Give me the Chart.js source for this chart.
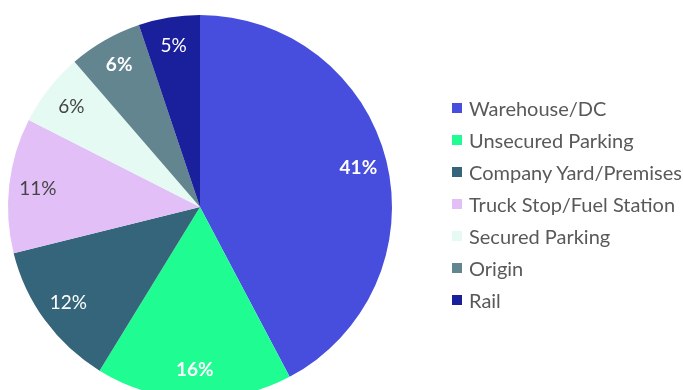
<!DOCTYPE html>
<html>
<head>
<meta charset="utf-8">
<script src="https://cdn.jsdelivr.net/npm/chart.js@4.4.1/dist/chart.umd.min.js"></script>
<style>
  html, body { margin:0; padding:0; background:#fff; overflow:hidden; width:683px; height:390px; }
  #wrap { position:absolute; left:0; top:0; width:683px; height:414px; }
  #legend { position:absolute; left:452px; top:92px; font-family:Lato, sans-serif; font-size:20px; color:#595959; }
  #legend .item { display:flex; align-items:center; height:32px; white-space:nowrap; }
  #legend .sw { width:10px; height:10px; margin-right:7px; flex:none; }
</style>
</head>
<body>
<div id="wrap"><canvas id="pie"></canvas></div>
<div id="legend"></div>
<script>
// Location breakdown (percent)
const categories = ['Warehouse/DC','Unsecured Parking','Company Yard/Premises','Truck Stop/Fuel Station','Secured Parking','Origin','Rail'];
const shares = [41, 16, 12, 11, 6, 6, 5];
const colors = ['#474ede','#1ffd92','#35657a','#e2c0f7','#e5faf2','#62858f','#1a1f9b'];
const labelColors = ['#fff','#fff','#fff','#444','#444','#fff','#fff'];
const labelBold = [true, true, false, false, false, true, false];

// percent labels inside each slice
const sliceLabels = {
  id:'sliceLabels',
  afterDatasetsDraw(chart){
    const ctx = chart.ctx;
    const meta = chart.getDatasetMeta(0);
    meta.data.forEach((arc, i) => {
      const p = arc.getProps(['x','y','startAngle','endAngle','outerRadius'], true);
      const mid = (p.startAngle + p.endAngle) / 2;
      const r = p.outerRadius * 0.85;
      ctx.save();
      ctx.font = (labelBold[i] ? 'bold ' : '') + '19px Lato, sans-serif';
      ctx.fillStyle = labelColors[i];
      ctx.textAlign = 'center';
      ctx.textBaseline = 'middle';
      ctx.fillText(shares[i] + '%', p.x + Math.cos(mid) * r, p.y + Math.sin(mid) * r);
      ctx.restore();
    });
  }
};

new Chart(document.getElementById('pie'), {
  type:'pie',
  data:{ labels:categories, datasets:[{ data:shares, backgroundColor:colors, borderWidth:0 }] },
  options:{
    responsive:true,
    maintainAspectRatio:false,
    animation:false,
    layout:{ padding:{ left:8, right:291, top:15, bottom:15 } },
    plugins:{ legend:{ display:false }, tooltip:{ enabled:false } }
  },
  plugins:[sliceLabels]
});

const legendEl = document.getElementById('legend');
categories.forEach((c, i) => {
  const row = document.createElement('div'); row.className = 'item';
  const sw = document.createElement('span'); sw.className = 'sw'; sw.style.background = colors[i];
  const t = document.createElement('span'); t.textContent = c;
  row.appendChild(sw); row.appendChild(t); legendEl.appendChild(row);
});
</script>
</body>
</html>
